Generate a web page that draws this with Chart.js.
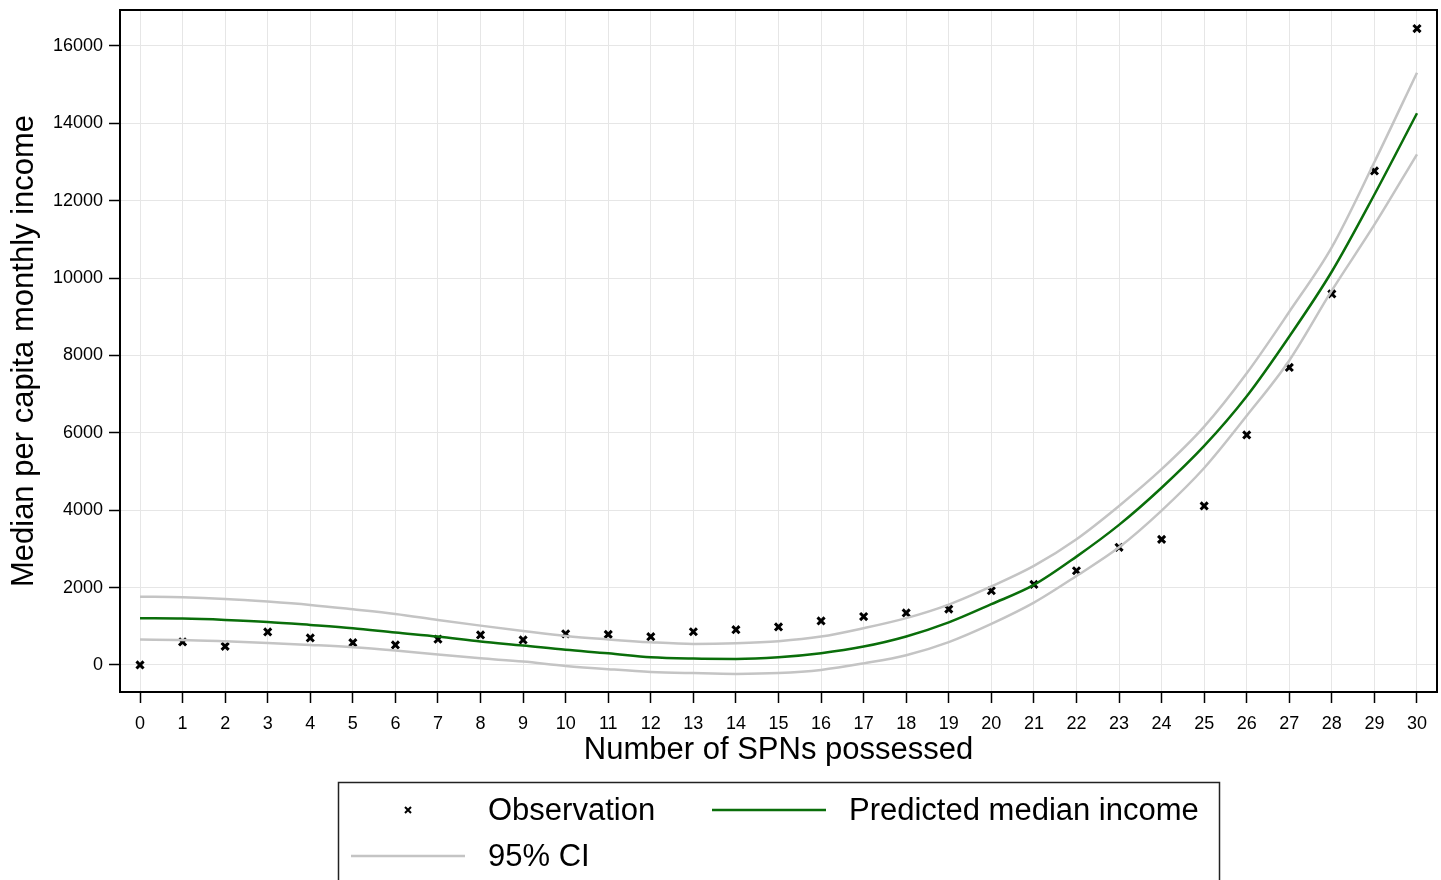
<!DOCTYPE html>
<html>
<head>
<meta charset="utf-8">
<script src="https://cdn.jsdelivr.net/npm/chart.js@4.4.1/dist/chart.umd.min.js"></script>
<style>
  html, body { margin: 0; padding: 0; background: #fff; overflow: hidden; }
  canvas { display: block; }
</style>
</head>
<body>
<canvas id="chart" width="1445" height="880"></canvas>
<script>
// Number of SPNs possessed
const spns = [0, 1, 2, 3, 4, 5, 6, 7, 8, 9, 10, 11, 12, 13, 14, 15, 16, 17, 18, 19, 20, 21, 22, 23, 24, 25, 26, 27, 28, 29, 30];

// observed median income
const observed = [0, 595, 480, 853, 698, 575, 517, 665, 775, 646, 805, 790, 730, 858, 910, 982, 1137, 1250, 1344, 1443, 1918, 2080, 2435, 3040, 3245, 4110, 5946, 7690, 9590, 12770, 16450];

// predicted median and 95% CI bounds
const predicted = [1206, 1197, 1163, 1112, 1034, 948, 836, 732, 603, 500, 390, 302, 198, 163, 155, 198, 302, 474, 735, 1100, 1570, 2068, 2800, 3620, 4580, 5660, 6945, 8490, 10170, 12160, 14260];
const ciUpper = [1765, 1749, 1706, 1637, 1551, 1439, 1318, 1163, 1016, 879, 750, 660, 586, 543, 560, 612, 732, 950, 1210, 1560, 2030, 2560, 3250, 4110, 5060, 6160, 7540, 9130, 10800, 13000, 15310];
const ciLower = [654, 646, 612, 569, 517, 457, 370, 267, 172, 86, -26, -110, -180, -212, -233, -212, -129, 40, 250, 590, 1060, 1610, 2300, 3040, 3990, 5090, 6440, 7870, 9680, 11380, 13200];

const yTicks = [0, 2000, 4000, 6000, 8000, 10000, 12000, 14000, 16000];

const FONT = "'Liberation Sans', Arial, sans-serif";
const GREEN = '#0a6e0a';
const GREY = '#c4c4c4';

const pts = arr => spns.map((x, i) => ({ x: x, y: arr[i] }));

// frame around the plot + legend box below
const extras = {
  id: 'extras',
  afterDraw(chart) {
    const { ctx, chartArea: a } = chart;
    ctx.save();
    ctx.strokeStyle = '#000';
    ctx.lineWidth = 2;
    ctx.strokeRect(a.left, a.top, a.right - a.left, a.bottom - a.top);

    // legend
    ctx.strokeStyle = '#222';
    ctx.lineWidth = 1.5;
    ctx.strokeRect(338.5, 782.5, 881, 120);

    ctx.font = '31px ' + FONT;
    ctx.fillStyle = '#000';
    ctx.textBaseline = 'middle';
    ctx.textAlign = 'left';

    // observation marker
    ctx.strokeStyle = '#000';
    ctx.lineWidth = 2;
    ctx.beginPath();
    ctx.moveTo(405, 807); ctx.lineTo(411, 813);
    ctx.moveTo(411, 807); ctx.lineTo(405, 813);
    ctx.stroke();
    ctx.fillText('Observation', 488, 811);

    ctx.strokeStyle = GREEN;
    ctx.lineWidth = 2.5;
    ctx.beginPath();
    ctx.moveTo(712, 810); ctx.lineTo(826, 810);
    ctx.stroke();
    ctx.fillText('Predicted median income', 849, 811);

    ctx.strokeStyle = GREY;
    ctx.beginPath();
    ctx.moveTo(351, 856); ctx.lineTo(465, 856);
    ctx.stroke();
    ctx.fillText('95% CI', 488, 857);
    ctx.restore();
  }
};

const lineStyle = {
  showLine: true,
  pointRadius: 0,
  borderWidth: 2.5,
  tension: 0.4,
  cubicInterpolationMode: 'monotone',
  fill: false
};

new Chart(document.getElementById('chart').getContext('2d'), {
  type: 'scatter',
  data: {
    datasets: [
      Object.assign({ label: '95% CI', data: pts(ciUpper), borderColor: GREY }, lineStyle),
      Object.assign({ label: '95% CI lower', data: pts(ciLower), borderColor: GREY }, lineStyle),
      Object.assign({ label: 'Predicted median income', data: pts(predicted), borderColor: GREEN }, lineStyle),
      {
        label: 'Observation',
        data: pts(observed),
        pointStyle: 'crossRot',
        pointRadius: 5,
        borderColor: '#000',
        borderWidth: 3,
        showLine: false
      }
    ]
  },
  options: {
    responsive: false,
    animation: false,
    layout: { padding: { top: 10, right: 0, left: 0, bottom: 0 } },
    plugins: {
      legend: { display: false },
      tooltip: { enabled: false }
    },
    scales: {
      x: {
        type: 'linear',
        min: -0.47,
        max: 30.47,
        afterBuildTicks: s => { s.ticks = spns.map(v => ({ value: v })); },
        afterFit: s => { s.height = 188; s.paddingLeft = 0; s.paddingRight = 0; },
        grid: { color: '#e6e6e6', lineWidth: 1, tickLength: 11, tickColor: '#000', tickWidth: 1.5 },
        border: { color: '#000', width: 2 },
        ticks: { color: '#000', font: { family: FONT, size: 18 }, padding: 10, maxRotation: 0 },
        title: {
          display: true,
          text: 'Number of SPNs possessed',
          color: '#000',
          font: { family: FONT, size: 31 },
          padding: { bottom: 111 }
        }
      },
      y: {
        min: -700,
        max: 16930,
        afterBuildTicks: s => { s.ticks = yTicks.map(v => ({ value: v })); },
        afterFit: s => { s.width = 120; s.paddingTop = 0; s.paddingBottom = 0; },
        grid: { color: '#e6e6e6', lineWidth: 1, tickLength: 11, tickColor: '#000', tickWidth: 1.5 },
        border: { color: '#000', width: 2 },
        ticks: { color: '#000', font: { family: FONT, size: 18 }, padding: 6, callback: v => String(v) },
        title: {
          display: true,
          text: 'Median per capita monthly income',
          color: '#000',
          font: { family: FONT, size: 31 },
          padding: { top: 6 }
        }
      }
    }
  },
  plugins: [extras]
});
</script>
</body>
</html>
